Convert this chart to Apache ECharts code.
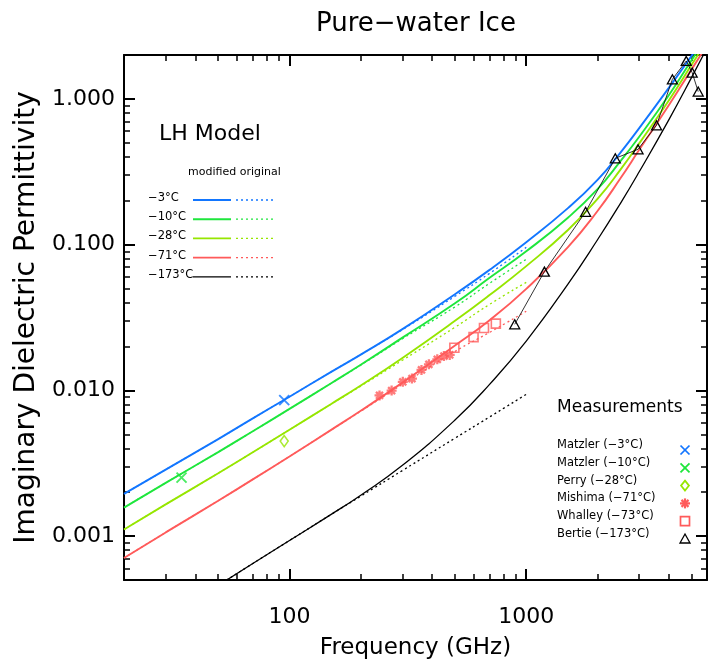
<!DOCTYPE html>
<html><head><meta charset="utf-8">
<script src="https://cdn.jsdelivr.net/npm/echarts@6/dist/echarts.min.js"></script>
<style>html,body{margin:0;padding:0;background:#fff}#c{width:710px;height:665px}</style>
</head><body><div id="c"></div>
<script>
// ---------- data ----------
const xMin = 20, xMax = 5800, yMin = 0.0005, yMax = 2;
const xMajorTicks = [100, 1000];
const xMinorTicks = [20, 30, 40, 50, 60, 70, 80, 90, 200, 300, 400, 500, 600, 700, 800, 900, 2000, 3000, 4000, 5000];
const yMajorTicks = [0.001, 0.01, 0.1, 1];
const yMinorTicks = [0.0005, 0.0006, 0.0007, 0.0008, 0.0009, 0.002, 0.003, 0.004, 0.005, 0.006, 0.007, 0.008, 0.009,
  0.02, 0.03, 0.04, 0.05, 0.06, 0.07, 0.08, 0.09, 0.2, 0.3, 0.4, 0.5, 0.6, 0.7, 0.8, 0.9, 2];

const temps = ['−3°C', '−10°C', '−28°C', '−71°C', '−173°C'];

// LH model, modified (solid)
const freqModel = [20, 30, 50, 70, 100, 150, 200, 300, 500, 700, 1000, 1500, 2000, 2500, 3000, 4000, 5000, 6000];
const modM3   = [0.00195, 0.00286, 0.00463, 0.00642, 0.00905, 0.0134, 0.0176, 0.0263, 0.0457, 0.0671, 0.104, 0.178, 0.278, 0.428, 0.630, 1.19, 1.98, 2.97];
const modM10  = [0.00157, 0.00232, 0.00377, 0.00524, 0.00746, 0.0112, 0.0150, 0.0230, 0.0396, 0.0592, 0.0900, 0.153, 0.240, 0.374, 0.550, 1.06, 1.85, 2.86];
const modM28  = [0.00111, 0.00165, 0.00270, 0.00376, 0.00537, 0.00807, 0.0108, 0.0167, 0.0300, 0.0451, 0.0712, 0.126, 0.206, 0.327, 0.495, 0.976, 1.72, 2.73];
const modM71  = [0.000708, 0.00106, 0.00175, 0.00245, 0.00352, 0.00536, 0.00724, 0.0113, 0.0203, 0.0303, 0.0497, 0.0961, 0.170, 0.285, 0.447, 0.904, 1.60, 2.55];
const modM173 = [null, null, 0.000459, 0.000649, 0.000933, 0.00141, 0.00191, 0.00306, 0.00626, 0.0110, 0.0218, 0.0536, 0.108, 0.192, 0.316, 0.718, 1.41, 2.49];

// LH model, original (dotted)
const freqOrig = [20, 30, 50, 70, 100, 150, 200, 300, 500, 700, 1000];
const origM3   = [0.00195, 0.00286, 0.00463, 0.00642, 0.00905, 0.0134, 0.0176, 0.0261, 0.0442, 0.0635, 0.0958];
const origM10  = [0.00157, 0.00232, 0.00377, 0.00524, 0.00746, 0.0112, 0.0149, 0.0226, 0.0374, 0.0543, 0.0793];
const origM28  = [0.00111, 0.00165, 0.00270, 0.00376, 0.00537, 0.00805, 0.0107, 0.0161, 0.0271, 0.0389, 0.0551];
const origM71  = [0.000708, 0.00106, 0.00175, 0.00245, 0.00352, 0.00535, 0.00720, 0.0110, 0.0185, 0.0250, 0.0349];
const origM173 = [null, null, 0.000459, 0.000649, 0.000933, 0.00141, 0.00188, 0.00282, 0.00470, 0.00657, 0.00939];

// Measurements
const matzler3Freq = [95],  matzler3Eps = [0.00858];
const matzler10Freq = [35], matzler10Eps = [0.00252];
const perryFreq = [95],     perryEps = [0.00449];
const mishimaFreq = [240, 270, 301, 329, 361, 388, 421, 449, 475];
const mishimaEps  = [0.00924, 0.00997, 0.01144, 0.01205, 0.01382, 0.01508, 0.01632, 0.01719, 0.01752];
const whalleyFreq = [497, 599, 663, 744];
const whalleyEps  = [0.0196, 0.0232, 0.0268, 0.0287];
const bertieFreq = [894, 1193, 1781, 2377, 2966, 3551, 4142, 4740, 5021, 5324];
const bertieEps  = [0.0284, 0.0653, 0.168, 0.391, 0.451, 0.659, 1.363, 1.82, 1.515, 1.122];

const measNames = ['Matzler (−3°C)', 'Matzler (−10°C)', 'Perry (−28°C)', 'Mishima (−71°C)', 'Whalley (−73°C)', 'Bertie (−173°C)'];

// ---------- styles ----------
const FONT = 'DejaVu Sans';
const C = ['#1276ff', '#1ee63c', '#96e600', '#ff5a5a', '#000000'];
const X_PATH = 'path://M0,0L10,10M10,0L0,10';
const AST_PATH = 'path://M5,0L5,10M0,5L10,5M1.5,1.5L8.5,8.5M8.5,1.5L1.5,8.5';
const CLEAR = 'rgba(0,0,0,0)';

function pairs(xs, ys) {
  const out = [];
  xs.forEach((x, i) => { if (ys[i] != null) out.push([x, ys[i]]); });
  return out;
}
function lineS(name, xs, ys, color, width, dotted) {
  return {
    type: 'line', name, data: pairs(xs, ys), symbol: 'none', smooth: 0.5,
    lineStyle: { color, width, type: dotted ? [2, 3] : 'solid' }, itemStyle: { color },
    z: dotted ? 2 : 3, silent: true, animation: false, clip: true
  };
}
function scatterS(name, xs, ys, symbol, size, color, bw) {
  return {
    type: 'scatter', name, data: pairs(xs, ys), symbol, symbolSize: size,
    itemStyle: { color: CLEAR, borderColor: color, borderWidth: bw }, z: 5, silent: true, animation: false
  };
}
const isDecade = v => { const l = Math.log10(v); return Math.abs(l - Math.round(l)) < 1e-6; };

function tickAxis(dim, pos, vals, len, w, showLine) {
  const lo = dim === 'x' ? xMin : yMin, hi = dim === 'x' ? xMax : yMax;
  return {
    type: 'value', position: pos, min: Math.log10(lo), max: Math.log10(hi),
    axisLine: { show: showLine, onZero: false, lineStyle: { color: '#000', width: 2 } },
    axisTick: { show: true, inside: true, length: len, customValues: vals.map(v => Math.log10(v)), lineStyle: { color: '#000', width: w } },
    axisLabel: { show: false }, splitLine: { show: false }, silent: true
  };
}

// ---------- graphic legends ----------
const graphic = [];
graphic.push({ type: 'text', x: 159, y: 134, style: { text: 'LH Model', font: '22px "DejaVu Sans"', fill: '#000', verticalAlign: 'middle' } });
graphic.push({ type: 'text', x: 188, y: 172.5, style: { text: 'modified original', font: '11px "DejaVu Sans"', fill: '#000', verticalAlign: 'middle' } });
temps.forEach((t, i) => {
  const y = 200 + i * 19.2;
  graphic.push({ type: 'text', x: 148, y: y - 2, style: { text: t, font: '11.5px "DejaVu Sans"', fill: '#000', verticalAlign: 'middle' } });
  graphic.push({ type: 'line', shape: { x1: 193, y1: y, x2: 231, y2: y }, style: { stroke: C[i], lineWidth: i === 4 ? 1.3 : 1.9 } });
  graphic.push({ type: 'line', shape: { x1: 236, y1: y, x2: 273, y2: y }, style: { stroke: C[i], lineWidth: 1.3, lineDash: [2, 3] } });
});
graphic.push({ type: 'text', x: 557, y: 408, style: { text: 'Measurements', font: '17px "DejaVu Sans"', fill: '#000', verticalAlign: 'middle' } });
const mColors = [C[0], C[1], C[2], C[3], C[3], C[4]];
measNames.forEach((t, i) => {
  const ty = 445 + i * 17.8, my = ty + 5, mx = 685;
  graphic.push({ type: 'text', x: 557, y: ty, style: { text: t, font: '11.5px "DejaVu Sans"', fill: '#000', verticalAlign: 'middle' } });
  const st = { stroke: mColors[i], lineWidth: 1.7, fill: null };
  if (i <= 1) {
    graphic.push({ type: 'line', shape: { x1: mx - 4.5, y1: my - 4.5, x2: mx + 4.5, y2: my + 4.5 }, style: st });
    graphic.push({ type: 'line', shape: { x1: mx + 4.5, y1: my - 4.5, x2: mx - 4.5, y2: my + 4.5 }, style: st });
  } else if (i === 2) {
    graphic.push({ type: 'polygon', shape: { points: [[mx, my - 5], [mx + 4, my], [mx, my + 5], [mx - 4, my]] }, style: st });
  } else if (i === 3) {
    [[0, -5, 0, 5], [-5, 0, 5, 0], [-3.5, -3.5, 3.5, 3.5], [3.5, -3.5, -3.5, 3.5]].forEach(s =>
      graphic.push({ type: 'line', shape: { x1: mx + s[0], y1: my + s[1], x2: mx + s[2], y2: my + s[3] }, style: { stroke: mColors[i], lineWidth: 2.2 } }));
  } else if (i === 4) {
    graphic.push({ type: 'rect', shape: { x: mx - 4.5, y: my - 4.5, width: 9, height: 9 }, style: st });
  } else {
    graphic.push({ type: 'polygon', shape: { points: [[mx, my - 5], [mx + 5, my + 4], [mx - 5, my + 4]] }, style: { stroke: '#000', lineWidth: 1.3, fill: null } });
  }
});

const option = {
  backgroundColor: '#fff',
  animation: false,
  textStyle: { fontFamily: FONT },
  title: {
    text: 'Pure−water Ice', left: 311, top: 6,
    textStyle: { fontFamily: FONT, fontSize: 26, fontWeight: 'normal', color: '#000' }
  },
  grid: { left: 124, top: 55, width: 589, height: 526, containLabel: false },
  xAxis: [
    {
      type: 'log', logBase: 10, min: xMin, max: xMax, position: 'bottom',
      name: 'Frequency (GHz)', nameLocation: 'middle', nameGap: 57,
      nameTextStyle: { fontFamily: FONT, fontSize: 23, color: '#000' },
      axisLine: { show: true, onZero: false, lineStyle: { color: '#000', width: 2 } },
      axisTick: { show: false }, splitLine: { show: false }, minorTick: { show: false },
      axisLabel: { fontFamily: FONT, fontSize: 22, color: '#000', margin: 26, formatter: v => isDecade(v) ? String(Math.round(v)) : '' }
    },
    tickAxis('x', 'bottom', xMajorTicks, 11, 2, false),
    tickAxis('x', 'bottom', xMinorTicks, 6, 1.5, false),
    tickAxis('x', 'top', xMajorTicks, 11, 2, true),
    tickAxis('x', 'top', xMinorTicks, 6, 1.5, false)
  ],
  yAxis: [
    {
      type: 'log', logBase: 10, min: yMin, max: yMax, position: 'left',
      name: 'Imaginary Dielectric Permittivity', nameLocation: 'middle', nameGap: 80,
      nameTextStyle: { fontFamily: FONT, fontSize: 28, color: '#000' },
      axisLine: { show: true, onZero: false, lineStyle: { color: '#000', width: 2 } },
      axisTick: { show: false }, splitLine: { show: false },
      axisLabel: { fontFamily: FONT, fontSize: 22, color: '#000', margin: 9, formatter: v => isDecade(v) ? v.toFixed(3) : '' }
    },
    tickAxis('y', 'left', yMajorTicks, 11, 2, false),
    tickAxis('y', 'left', yMinorTicks, 6, 1.5, false),
    tickAxis('y', 'right', yMajorTicks, 11, 2, true),
    tickAxis('y', 'right', yMinorTicks, 6, 1.5, false)
  ],
  graphic,
  series: [
    lineS('orig −3°C', freqOrig, origM3, C[0], 1.3, true),
    lineS('orig −10°C', freqOrig, origM10, C[1], 1.3, true),
    lineS('orig −28°C', freqOrig, origM28, C[2], 1.3, true),
    lineS('orig −71°C', freqOrig, origM71, C[3], 1.3, true),
    lineS('orig −173°C', freqOrig, origM173, C[4], 1.3, true),
    lineS('−3°C', freqModel, modM3, C[0], 1.9, false),
    lineS('−10°C', freqModel, modM10, C[1], 1.9, false),
    lineS('−28°C', freqModel, modM28, C[2], 1.9, false),
    lineS('−71°C', freqModel, modM71, C[3], 1.9, false),
    lineS('−173°C', freqModel, modM173, C[4], 1.3, false),
    scatterS(measNames[0], matzler3Freq, matzler3Eps, X_PATH, 10, C[0], 1.9),
    scatterS(measNames[1], matzler10Freq, matzler10Eps, X_PATH, 10, C[1], 1.9),
    scatterS(measNames[2], perryFreq, perryEps, 'diamond', [8, 11], C[2], 1.6),
    scatterS(measNames[3], mishimaFreq, mishimaEps, AST_PATH, 10, C[3], 2.3),
    scatterS(measNames[4], whalleyFreq, whalleyEps, 'rect', 9, C[3], 1.6),
    {
      type: 'line', name: measNames[5], data: pairs(bertieFreq, bertieEps), symbol: 'triangle', symbolSize: [10, 9],
      showAllSymbol: true, itemStyle: { color: CLEAR, borderColor: '#000', borderWidth: 1.3 },
      lineStyle: { color: '#000', width: 0.8 }, z: 6, silent: true, animation: false
    }
  ]
};
const chart = echarts.init(document.getElementById('c'), null, { renderer: 'canvas' });
chart.setOption(option);
</script>
</body></html>
